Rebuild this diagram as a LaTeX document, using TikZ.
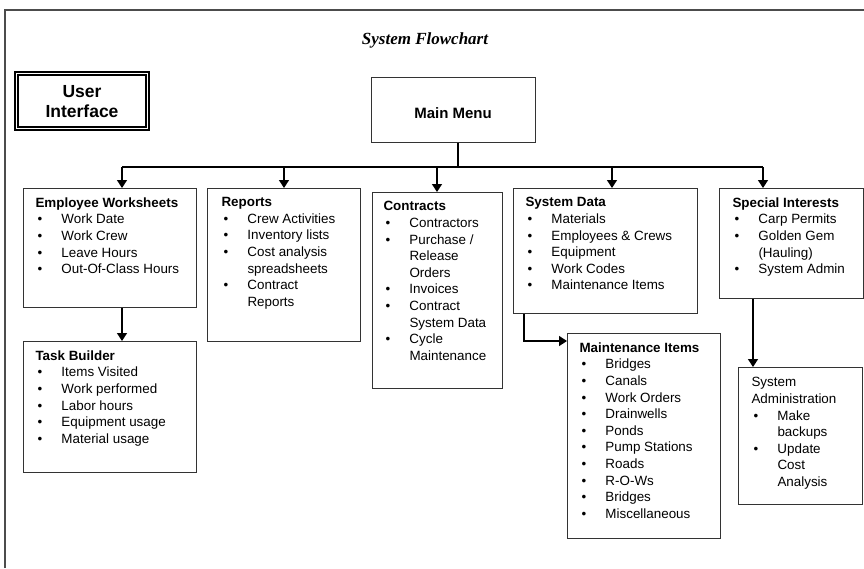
\documentclass[tikz,border=0pt]{standalone}
\usepackage{fontspec}
\setmainfont{Liberation Sans}
\newfontfamily\titlefont{Liberation Serif}
\usetikzlibrary{arrows.meta}
% bullet line and continuation line inside a box
\newcommand{\bul}{\par\hspace*{2pt}\makebox[24pt][l]{\textbullet}}
\newcommand{\cont}{\par\hspace*{26pt}}

\begin{document}
\begin{tikzpicture}[x=1pt,y=-1pt,
  box/.style={draw=black!80,line width=1pt,anchor=north west,inner xsep=12pt,inner ysep=9pt,
    font=\fontsize{13.4}{16.6}\selectfont},
  arr/.style={black,line width=1.3pt,-{Triangle[length=8pt,width=10pt]}},
  link/.style={black,line width=1.3pt}]
\useasboundingbox (0,0) rectangle (864,568);
\draw[black!70,line width=1.5pt] (5,568) -- (5,10) -- (864,10);
\node[font=\titlefont\bfseries\itshape\fontsize{17}{20}\selectfont] (title) at (425,40) {System Flowchart};
\node[draw,double,line width=1.6pt,double distance=1.8pt,minimum width=131pt,minimum height=55pt,
  font=\bfseries\fontsize{17.5}{20}\selectfont,text height=24pt,text depth=10pt] (ui) at (82,101)
  {\begin{tabular}{@{}c@{}}User\\Interface\end{tabular}};
\node[draw=black!80,line width=1pt,minimum width=164pt,minimum height=65pt,
  font=\bfseries\fontsize{15}{18}\selectfont,text height=17pt,text depth=0pt] (mm) at (453,109.5) {Main Menu};
% first row
\node[box] (ews) at (23,188) {\parbox[c][101pt][t]{149pt}{\textbf{Employee Worksheets}%
  \bul Work Date\bul Work Crew\bul Leave Hours\bul Out-Of-Class Hours}};
\node[box,inner xsep=14pt] (rep) at (207,188) {\parbox[c][135pt][t]{125pt}{\textbf{Reports}%
  \bul Crew Activities\bul Inventory lists\bul Cost analysis\cont spreadsheets\bul Contract\cont Reports}};
\node[box,inner xsep=11pt] (con) at (372,192) {\parbox[c][178pt][t]{108pt}{\textbf{Contracts}%
  \bul Contractors\bul Purchase /\cont Release\cont Orders\bul Invoices\bul Contract\cont System Data%
  \bul Cycle\cont Maintenance}};
\node[box] (sd) at (513,188) {\parbox[c][107pt][t]{160pt}{\textbf{System Data}%
  \bul Materials\bul Employees \& Crews\bul Equipment\bul Work Codes\bul Maintenance Items}};
\node[box,inner xsep=13pt] (si) at (719,188) {\parbox[c][92pt][t]{118pt}{\textbf{Special Interests}%
  \bul Carp Permits\bul Golden Gem\cont (Hauling)\bul System Admin}};
% second row
\node[box] (tb) at (23,341) {\parbox[c][113pt][t]{149pt}{\textbf{Task Builder}%
  \bul Items Visited\bul Work performed\bul Labor hours\bul Equipment usage\bul Material usage}};
\node[box] (mi) at (567,333) {\parbox[c][187pt][t]{129pt}{\textbf{Maintenance Items}%
  \bul Bridges\bul Canals\bul Work Orders\bul Drainwells\bul Ponds\bul Pump Stations\bul Roads%
  \bul R-O-Ws\bul Bridges\bul Miscellaneous}};
\node[box,inner xsep=13pt,inner ysep=10pt] (sa) at (738,367) {\parbox[c][117pt][t]{98pt}{System\par Administration%
  \bul Make\cont backups\bul Update\cont Cost\cont Analysis}};
% menu bus
\coordinate (bus) at (458,167);
\draw[link] (mm.south -| bus) -- (bus);
\foreach \b/\x in {ews/122,rep/284,con/437,sd/612,si/763} {
  \coordinate (\b-in) at (\x,167);
  \draw[arr] (\b-in) -- (\b-in |- \b.north);
}
\draw[link] (ews-in) -- (si-in);
% sub-boxes
\draw[arr] (ews-in |- ews.south) -- (ews-in |- tb.north);
\coordinate (sd-out) at (524,341);
\draw[arr] (sd-out |- sd.south) -- (sd-out) -- (sd-out -| mi.west);
\coordinate (si-out) at (753,300);
\draw[arr] (si-out |- si.south) -- (si-out |- sa.north);
\end{tikzpicture}
\end{document}
